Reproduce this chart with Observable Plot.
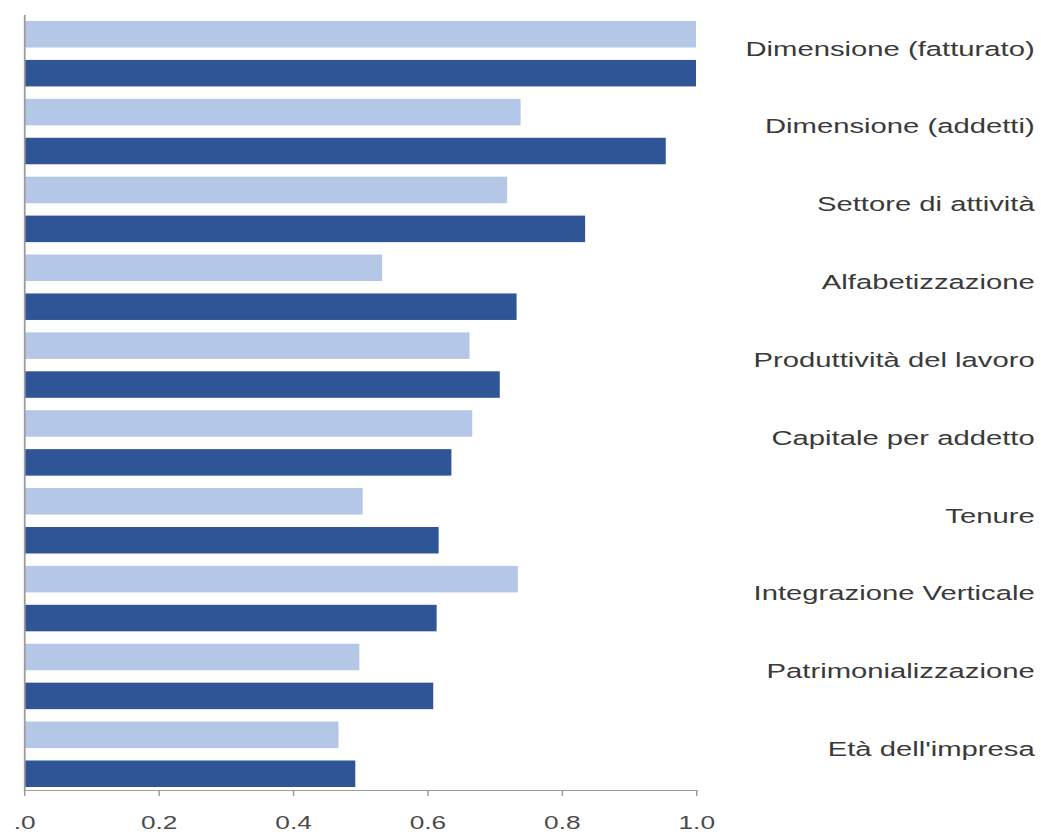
<!DOCTYPE html>
<html>
<head>
<meta charset="utf-8">
<script src="https://cdn.jsdelivr.net/npm/d3@7"></script>
<script src="https://cdn.jsdelivr.net/npm/@observablehq/plot@0.6"></script>
<style>
  html, body { margin: 0; padding: 0; background: #ffffff; }
  #chart svg { display: block; }
</style>
</head>
<body>
<div id="chart"></div>
<script>
// Categories, top to bottom
const categories = [
  "Dimensione (fatturato)",
  "Dimensione (addetti)",
  "Settore di attività",
  "Alfabetizzazione",
  "Produttività del lavoro",
  "Capitale per addetto",
  "Tenure",
  "Integrazione Verticale",
  "Patrimonializzazione",
  "Età dell'impresa"
];

// First (light) and second (dark) series, one value per category
const serieChiara = [1.0, 0.739, 0.719, 0.533, 0.663, 0.667, 0.504, 0.735, 0.499, 0.468];
const serieScura  = [1.0, 0.955, 0.835, 0.733, 0.708, 0.636, 0.617, 0.614, 0.609, 0.493];

// X axis ticks and their labels
const xTicks = [0, 0.2, 0.4, 0.6, 0.8, 1.0];
const xTickLabels = [".0", "0.2", "0.4", "0.6", "0.8", "1.0"];

const seriesColors = ["#b4c7e7", "#2f5597"];

// One row per bar: each category gets a light bar followed by a dark bar
const rows = categories.flatMap((c, i) => [
  {category: c, series: 0, key: c + "|0", value: serieChiara[i]},
  {category: c, series: 1, key: c + "|1", value: serieScura[i]}
]);

// The chart is laid out on a narrower canvas and widened horizontally on screen
const outW = 1041, outH = 832, stretch = 1.5;
const W = outW / stretch;

const chart = Plot.plot({
  width: W,
  height: outH,
  marginLeft: 16,
  marginRight: W - 464,
  marginTop: 15,
  marginBottom: outH - 790,
  style: {fontFamily: "'Liberation Sans', Arial, sans-serif", background: "#ffffff"},
  x: {domain: [0, 1]},
  y: {
    type: "band",
    domain: rows.map(d => d.key),
    paddingInner: 0.319,
    paddingOuter: 0.1156,
    align: 0.667,
    round: false,
    axis: null
  },
  color: {type: "ordinal", domain: [0, 1], range: seriesColors},
  marks: [
    Plot.barX(rows, {x: "value", y: "key", fill: "series"}),
    Plot.frame({anchor: "left", stroke: "#9c9c9c", strokeWidth: 1.2}),
    Plot.frame({anchor: "bottom", stroke: "#9c9c9c", strokeWidth: 1.2}),
    Plot.axisX({
      ticks: xTicks,
      tickFormat: d => xTickLabels[xTicks.indexOf(d)],
      tickSize: 6,
      tickPadding: 20,
      stroke: "#9c9c9c",
      fill: "#4a4a4a",
      fontSize: 17.5,
      label: null
    }),
    Plot.axisY({
      anchor: "right",
      ticks: rows.filter(d => d.series === 0).map(d => d.key),
      tickFormat: k => k.split("|")[0],
      tickSize: 0,
      tickPadding: 0,
      textAnchor: "end",
      dx: 225.3,
      dy: 14.5,
      fontSize: 19.5,
      fill: "#3a3a3a",
      label: null
    })
  ]
});

chart.setAttribute("preserveAspectRatio", "none");
chart.setAttribute("width", outW);
chart.setAttribute("height", outH);
chart.style.width = outW + "px";
chart.style.height = outH + "px";
chart.style.maxWidth = "none";
document.getElementById("chart").appendChild(chart);
</script>
</body>
</html>
